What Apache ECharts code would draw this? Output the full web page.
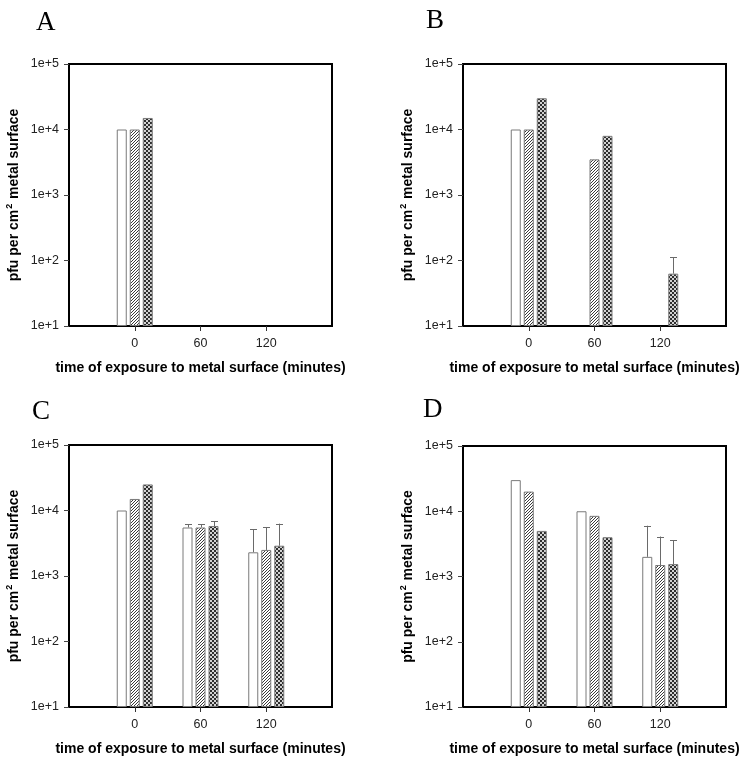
<!DOCTYPE html>
<html>
<head>
<meta charset="utf-8">
<script src="https://cdn.jsdelivr.net/npm/echarts@6/dist/echarts.min.js"></script>
<style>html,body{margin:0;padding:0;background:#fff;}#c{width:753px;height:761px;}</style>
</head>
<body>
<div id="c"></div>
<script>
// Axis categories (minutes); outer ones are padding so the axis spans -60..180
const categories = ['-60', '0', '60', '120', '180'];
const yTicks = [10, 100, 1000, 10000, 100000];
const panelLetters = ['A', 'B', 'C', 'D'];

// Values at 0, 60, 120 minutes (null = no bar / no error bar)
const aOpen  = [10000, null, null];
const aHatch = [10000, null, null];
const aCross = [15000, null, null];

const bOpen  = [10000, null, null];
const bHatch = [10000, 3500, null];
const bCross = [30000, 8000, 63];
const bCrossErr = [null, null, 112];

const cOpen  = [10000, 5500, 2300];
const cHatch = [15000, 5500, 2500];
const cCross = [25000, 5800, 2900];
const cOpenErr  = [null, 6200, 5200];
const cHatchErr = [null, 6200, 5600];
const cCrossErr = [null, 6900, 6300];

const dOpen  = [30000, 10000, 2000];
const dHatch = [20000, 8500, 1500];
const dCross = [5000, 4000, 1550];
const dOpenErr  = [null, null, 6000];
const dHatchErr = [null, null, 4100];
const dCrossErr = [null, null, 3600];

const panels = [
  {bars: [aOpen, aHatch, aCross], errs: [[null,null,null],[null,null,null],[null,null,null]]},
  {bars: [bOpen, bHatch, bCross], errs: [[null,null,null],[null,null,null], bCrossErr]},
  {bars: [cOpen, cHatch, cCross], errs: [cOpenErr, cHatchErr, cCrossErr]},
  {bars: [dOpen, dHatch, dCross], errs: [dOpenErr, dHatchErr, dCrossErr]}
];

// Layout
const grids = [
  {left: 69, top: 64, width: 263, height: 262},
  {left: 463, top: 64, width: 263, height: 262},
  {left: 69, top: 445, width: 263, height: 262},
  {left: 463, top: 446, width: 263, height: 261}
];
const letterPos = [[31, 4], [421, 2], [27, 393], [418, 391]];
const BAR_W = 10, BAR_GAP = 3;

// Fill patterns
function hatchCanvas() {
  const c = document.createElement('canvas'); c.width = 3; c.height = 3;
  const g = c.getContext('2d');
  g.fillStyle = '#ffffff'; g.fillRect(0, 0, 3, 3);
  g.fillStyle = '#3a3a3a';
  g.fillRect(2, 0, 1, 1); g.fillRect(1, 1, 1, 1); g.fillRect(0, 2, 1, 1);
  return c;
}
function checkCanvas() {
  const c = document.createElement('canvas'); c.width = 4; c.height = 4;
  const g = c.getContext('2d');
  g.fillStyle = '#d2d2d2'; g.fillRect(0, 0, 4, 4);
  g.fillStyle = '#2e2e2e';
  g.fillRect(0, 0, 2, 2); g.fillRect(2, 2, 2, 2);
  return c;
}
const fills = [
  '#ffffff',
  {image: hatchCanvas(), repeat: 'repeat'},
  {image: checkCanvas(), repeat: 'repeat'}
];

const chart = echarts.init(document.getElementById('c'), null, {renderer: 'canvas'});

const xAxes = [], yAxes = [], series = [], titles = [];
grids.forEach((g, gi) => {
  xAxes.push({
    type: 'category', gridIndex: gi, data: categories, boundaryGap: false,
    axisLine: {show: false},
    axisTick: {show: true, length: 5, inside: false, lineStyle: {color: '#333', width: 1},
      interval: (i) => i >= 1 && i <= 3},
    axisLabel: {interval: (i) => i >= 1 && i <= 3, color: '#222', fontSize: 12.5,
      fontFamily: 'Liberation Sans, Arial, sans-serif', margin: 11},
    splitLine: {show: false},
    name: 'time of exposure to metal surface (minutes)',
    nameLocation: 'middle', nameGap: 35,
    nameTextStyle: {fontWeight: 'bold', fontSize: 14, color: '#000',
      fontFamily: 'Liberation Sans, Arial, sans-serif'}
  });
  yAxes.push({
    type: 'log', logBase: 10, gridIndex: gi, min: yTicks[0], max: yTicks[yTicks.length - 1],
    startValue: yTicks[0],
    axisLine: {show: false},
    axisTick: {show: true, length: 5, lineStyle: {color: '#444', width: 1}},
    minorTick: {show: false},
    splitLine: {show: false},
    axisLabel: {color: '#222', fontSize: 12.5, margin: 10,
      fontFamily: 'Liberation Sans, Arial, sans-serif',
      formatter: (v) => '1e+' + Math.round(Math.log10(v))},
    name: '{t|pfu per cm}{s|2}{t| metal surface}',
    nameLocation: 'middle', nameRotate: 90, nameGap: 46,
    nameTextStyle: {
      rich: {
        t: {fontWeight: 'bold', fontSize: 14, color: '#000', fontFamily: 'Liberation Sans, Arial, sans-serif'},
        s: {fontWeight: 'bold', fontSize: 9, color: '#000', fontFamily: 'Liberation Sans, Arial, sans-serif', verticalAlign: 'top', padding: [0, 1, 9, 1]}
      }
    }
  });
  titles.push({
    text: panelLetters[gi], left: letterPos[gi][0], top: letterPos[gi][1],
    textStyle: {fontFamily: 'Liberation Serif, Times New Roman, serif', fontWeight: 'normal', fontSize: 27, color: '#000'}
  });
  const p = panels[gi];
  p.bars.forEach((vals, si) => {
    series.push({
      type: 'bar', xAxisIndex: gi, yAxisIndex: gi,
      data: [null].concat(vals).concat([null]),
      barWidth: BAR_W, barGap: (BAR_GAP / BAR_W * 100) + '%',
      clip: true, silent: true, animation: false,
      itemStyle: {color: fills[si], borderColor: '#7a7a7a', borderWidth: 1}
    });
  });
  // error bars (upper only)
  const errData = [];
  p.errs.forEach((errs, si) => {
    errs.forEach((e, ti) => {
      if (e != null && p.bars[si][ti] != null) errData.push([ti + 1, p.bars[si][ti], e, si]);
    });
  });
  series.push({
    type: 'custom', xAxisIndex: gi, yAxisIndex: gi, silent: true, animation: false,
    data: errData,
    encode: {x: 0, y: [1, 2]},
    renderItem: (params, api) => {
      const cat = api.value(0);
      const base = api.coord([cat, api.value(1)]);
      const top = api.coord([cat, api.value(2)]);
      const off = (api.value(3) - 1) * (BAR_W + BAR_GAP);
      const x = Math.round(base[0] + off) + 0.5;
      const style = {stroke: '#6a6a6a', lineWidth: 1};
      return {type: 'group', children: [
        {type: 'line', shape: {x1: x, y1: base[1], x2: x, y2: top[1]}, style},
        {type: 'line', shape: {x1: x - 3.5, y1: Math.round(top[1]) + 0.5, x2: x + 3.5, y2: Math.round(top[1]) + 0.5}, style}
      ]};
    }
  });
});

chart.setOption({
  animation: false,
  backgroundColor: '#ffffff',
  title: titles,
  grid: grids.map(g => Object.assign({show: true, borderColor: '#000', borderWidth: 2, backgroundColor: 'transparent', containLabel: false}, g)),
  xAxis: xAxes,
  yAxis: yAxes,
  series: series
});
</script>
</body>
</html>
